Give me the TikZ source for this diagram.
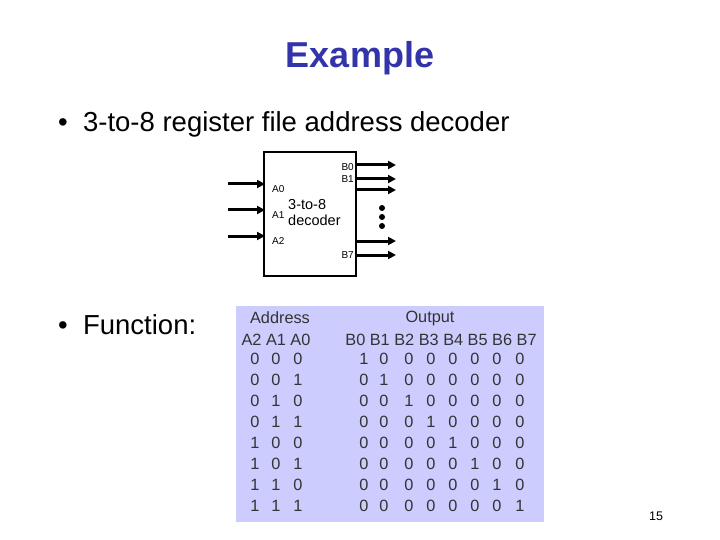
\documentclass[tikz,border=0pt]{standalone}
\usepackage{fontspec}
\setmainfont{Liberation Sans}
\usetikzlibrary{arrows.meta, positioning, calc}
\definecolor{titleblue}{RGB}{51,51,170}
\definecolor{tablebg}{RGB}{204,204,255}
\tikzset{
    sig/.style={-{Triangle[length=8pt,width=8pt]}, line width=3pt},
    pin/.style={font=\fontsize{10}{11}\selectfont, inner sep=0pt},
    cell/.style={font=\fontsize{16.3}{18}\selectfont, inner sep=0pt, text=black!80},
    bullet/.style={font=\fontsize{27.5}{30}\selectfont, anchor=west, inner sep=0pt}
}
\begin{document}
\begin{tikzpicture}[x=1pt, y=-1pt]
    \useasboundingbox (0,0) rectangle (720,540);
    % Title and bullets
    \node[font=\bfseries\fontsize{36}{40}\selectfont, text=titleblue] (title) at (360,58) {Example};
    \node[bullet] (item1) at (58,124) {\textbullet\ \ 3-to-8 register file address decoder};
    \node[bullet] (item2) at (58,325) {\textbullet\ \ Function:};
    % Decoder block
    \draw[line width=1.8pt] (264,152) rectangle (356,276);
    \node[font=\fontsize{14.5}{16}\selectfont, align=left, anchor=west, inner sep=0pt] (dec) at (288,213) {3-to-8\\decoder};
    \foreach \n/\y in {0/184, 1/210, 2/236} {
        \coordinate (in\n) at (228,\y);
        \coordinate (a\n) at (265,\y);
        \draw[sig] (in\n) -- (a\n);
        \node[pin, anchor=west] (lbl a\n) at (272,\y+5) {A\n};
    }
    \foreach \n/\y in {0/165, 1/179, 2/190, 6/241, 7/255} {
        \coordinate (b\n) at (356,\y);
        \coordinate (out\n) at (396,\y);
        \draw[sig] (b\n) -- (out\n);
    }
    \node[pin, anchor=east] (lbl b0) at (354,167) {B0};
    \node[pin, anchor=east] (lbl b1) at (354,179) {B1};
    \node[pin, anchor=east] (lbl b7) at (354,255) {B7};
    \foreach \y in {208, 217, 226}
        \fill (382,\y) circle (3pt);
    % Truth table
    \fill[tablebg] (236,306) rectangle (544,522);
    \node[cell] (addr) at (280,318) {Address};
    \node[cell] (outp) at (430,318) {Output};
    \node[cell] (hdr a) at (276,340) {A2 A1 A0};
    \node[cell] (hdr b) at (441,340) {B0 B1 B2 B3 B4 B5 B6 B7};
    \foreach \r in {0,...,7} {
        \pgfmathtruncatemacro{\aa}{div(\r,4)}
        \pgfmathtruncatemacro{\ab}{mod(div(\r,2),2)}
        \pgfmathtruncatemacro{\ac}{mod(\r,2)}
        \node[cell] at (255,359+21*\r) {\aa};
        \node[cell] at (276,359+21*\r) {\ab};
        \node[cell] at (298,359+21*\r) {\ac};
        \foreach \c/\x in {0/364, 1/384, 2/409, 3/431, 4/453, 5/475, 6/497, 7/520} {
            \pgfmathtruncatemacro{\v}{\c==\r ? 1 : 0}
            \node[cell] at (\x,359+21*\r) {\v};
        }
    }
    \node[font=\fontsize{12.5}{14}\selectfont] (page) at (656,516) {15};
\end{tikzpicture}
\end{document}
